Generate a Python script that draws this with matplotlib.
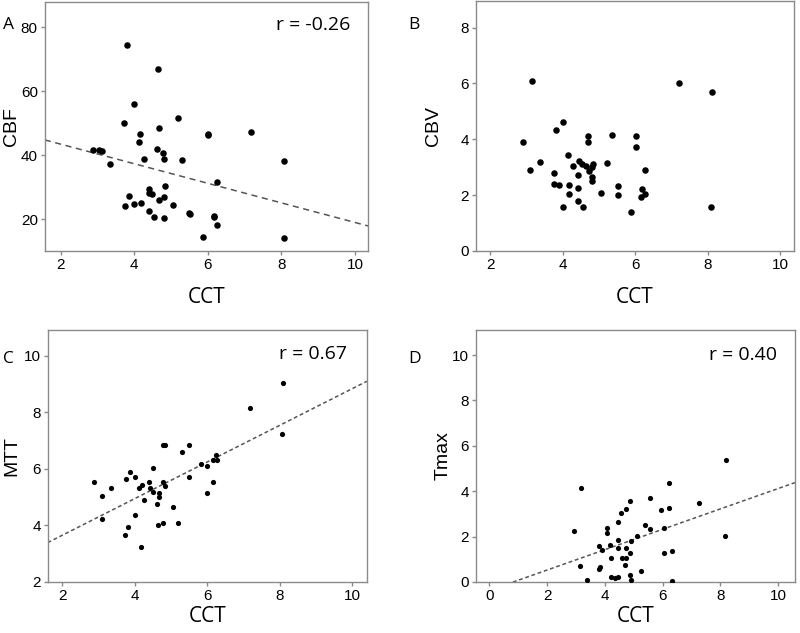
import numpy as np
import matplotlib
matplotlib.use('Agg')
import matplotlib.pyplot as plt

'''            DATA (read from the figure)          '''
# A: CBF vs CCT
cct_a = [3.79, 4.65, 4.00, 5.18, 3.73, 4.66, 5.99, 6.01, 7.17, 4.16, 4.12, 2.88, 3.05,
         3.12, 4.63, 4.79, 4.82, 4.26, 5.31, 8.07, 3.34, 6.24, 4.83, 4.40, 4.40, 4.49,
         3.86, 4.80, 4.67, 4.17, 4.00, 5.06, 3.75, 4.39, 5.49, 5.51, 4.53, 6.16, 6.18,
         4.80, 6.26, 5.88, 8.06]
cbf = [74.5, 66.9, 56.0, 51.5, 50.2, 48.6, 46.6, 46.3, 47.4, 46.8, 44.2, 41.5, 41.6,
       41.4, 42.0, 40.6, 38.8, 38.9, 38.5, 38.2, 37.3, 31.7, 30.5, 29.4, 28.3, 27.9,
       27.3, 26.9, 26.0, 25.2, 24.9, 24.5, 24.1, 22.5, 22.0, 21.7, 20.8, 21.0, 20.8,
       20.3, 18.2, 14.4, 14.3]

# B: CBV vs CCT
cct_b = [3.15, 7.22, 8.13, 4.02, 3.81, 4.69, 5.35, 6.02, 2.90, 4.69, 6.02, 4.15, 3.37,
         5.22, 4.44, 4.53, 4.85, 4.28, 4.64, 4.80, 4.72, 3.09, 6.28, 3.75, 4.43, 4.82,
         4.81, 3.77, 3.89, 4.19, 5.52, 4.43, 6.18, 5.07, 4.19, 5.53, 6.28, 6.17, 4.43,
         4.02, 4.56, 8.11, 5.89]
cbv = [6.08, 6.03, 5.70, 4.62, 4.34, 4.12, 4.15, 4.10, 3.90, 3.91, 3.74, 3.42, 3.18,
       3.15, 3.22, 3.13, 3.13, 3.03, 3.05, 3.02, 2.86, 2.91, 2.90, 2.79, 2.73, 2.66,
       2.51, 2.40, 2.35, 2.36, 2.34, 2.26, 2.21, 2.09, 2.05, 2.00, 2.05, 1.94, 1.79,
       1.56, 1.59, 1.56, 1.39]

# C: MTT vs CCT
cct_c = [8.09, 7.19, 8.06, 4.79, 4.85, 5.49, 5.32, 6.25, 6.17, 6.26, 5.84, 5.99, 4.51,
         3.87, 4.00, 5.49, 3.76, 2.89, 4.41, 4.79, 6.15, 4.19, 4.83, 4.43, 3.36, 4.13,
         4.52, 4.66, 5.99, 3.09, 4.67, 4.27, 4.63, 5.05, 4.00, 3.09, 4.79, 5.19, 4.65,
         3.81, 3.74, 4.18]
mtt = [9.04, 8.15, 7.22, 6.84, 6.85, 6.84, 6.58, 6.47, 6.31, 6.31, 6.16, 6.09, 6.04,
       5.89, 5.71, 5.72, 5.65, 5.54, 5.54, 5.53, 5.52, 5.44, 5.40, 5.33, 5.31, 5.31,
       5.18, 5.13, 5.15, 5.02, 5.00, 4.88, 4.76, 4.64, 4.36, 4.24, 4.10, 4.07, 4.00,
       3.95, 3.65, 3.22]

# D: Tmax vs CCT
cct_d = [8.19, 6.23, 3.19, 5.56, 4.87, 7.25, 4.57, 4.73, 5.94, 6.23, 4.46, 5.39, 4.06,
         5.56, 6.06, 2.93, 4.06, 5.11, 8.15, 4.46, 4.90, 4.18, 3.79, 4.46, 4.72, 3.91,
         6.32, 6.06, 4.87, 4.23, 4.58, 4.73, 4.69, 3.14, 3.84, 3.81, 5.26, 4.86, 4.22,
         4.46, 4.34, 3.40, 4.89, 6.32]
tmax = [5.38, 4.35, 4.13, 3.72, 3.56, 3.50, 3.06, 3.21, 3.18, 3.25, 2.65, 2.51, 2.38,
        2.35, 2.37, 2.25, 2.15, 2.01, 2.01, 1.85, 1.81, 1.65, 1.59, 1.49, 1.49, 1.40,
        1.38, 1.28, 1.26, 1.07, 1.07, 1.07, 0.76, 0.72, 0.65, 0.59, 0.47, 0.31, 0.24,
        0.24, 0.16, 0.10, 0.10, 0.04]

# regression lines (slope, intercept) and r values
fit_a, r_a = (-3.06, 49.6), '-0.26'
fit_c, r_c = (0.647, 2.355), '0.67'
fit_d, r_d = (0.449, -0.373), '0.40'

'''            FIGURE          '''
plt.rcParams['font.family'] = ['Liberation Sans', 'DejaVu Sans']
LABEL_FONT = ['Open Sans', 'DejaVu Sans']
spine_col = '#8a8a8a'

fig = plt.figure(figsize=(8, 6.33), dpi=100)
axA = fig.add_axes([0.056, 0.6035, 0.404, 0.3934])
axB = fig.add_axes([0.5946, 0.6035, 0.398, 0.3945])
axC = fig.add_axes([0.0596, 0.0806, 0.399, 0.398])
axD = fig.add_axes([0.5946, 0.0806, 0.399, 0.398])


def style(ax, xlim, ylim, xticks, yticks, ylab, ylab_x, xlab_y):
    ax.set_xlim(xlim)
    ax.set_ylim(ylim)
    ax.set_xticks(xticks)
    ax.set_yticks(yticks)
    for s in ax.spines.values():
        s.set_color(spine_col)
        s.set_linewidth(1.0)
    ax.tick_params(direction='out', length=3, width=1, color=spine_col,
                   labelsize=11, pad=2)
    ax.set_xlabel('CCT', fontsize=15, family=LABEL_FONT)
    ax.set_ylabel(ylab, fontsize=14)
    # label anchors: top edge of the x label, right edge of the y label
    ax.xaxis.set_label_coords(0.5, xlab_y)
    ax.yaxis.set_label_coords(ylab_x, 0.5)


def fit_line(ax, fit, ls):
    xs = np.array(ax.get_xlim())
    ax.plot(xs, fit[0] * xs + fit[1], color='#555555', lw=1.1, ls=ls, zorder=1)


# A
axA.scatter(cct_a, cbf, s=22, color='black', zorder=3, linewidths=0)
style(axA, (1.57, 10.35), (10.1, 87.9), [2, 4, 6, 8, 10], [20, 40, 60, 80],
      'CBF', -0.077, -0.145)
fit_line(axA, fit_a, (0, (4, 3)))
axA.text(0.944, 0.908, 'r = ' + r_a, transform=axA.transAxes, ha='right',
         va='center', fontsize=14, family=LABEL_FONT)

# B
axB.scatter(cct_b, cbv, s=22, color='black', zorder=3, linewidths=0)
style(axB, (1.6, 10.39), (0, 8.94), [2, 4, 6, 8, 10], [0, 2, 4, 6, 8],
      'CBV', -0.107, -0.145)

# C
axC.scatter(cct_c, mtt, s=14, color='black', zorder=3, linewidths=0)
style(axC, (1.6, 10.41), (2, 10.9), [2, 4, 6, 8, 10], [2, 4, 6, 8, 10],
      'MTT', -0.087, -0.095)
fit_line(axC, fit_c, (0, (2.5, 1.8)))
axC.text(0.938, 0.905, 'r = ' + r_c, transform=axC.transAxes, ha='right',
         va='center', fontsize=14, family=LABEL_FONT)

# D
axD.scatter(cct_d, tmax, s=14, color='black', zorder=3, linewidths=0)
style(axD, (-0.47, 10.58), (0, 11.1), [0, 2, 4, 6, 8, 10], [0, 2, 4, 6, 8, 10],
      'Tmax', -0.075, -0.095)
fit_line(axD, fit_d, (0, (2.5, 1.8)))
axD.text(0.944, 0.90, 'r = ' + r_d, transform=axD.transAxes, ha='right',
         va='center', fontsize=14, family=LABEL_FONT)

# panel letters
for lx, ly, letter in [(0.004, 0.960, 'A'), (0.510, 0.960, 'B'),
                       (0.004, 0.433, 'C'), (0.510, 0.433, 'D')]:
    fig.text(lx, ly, letter, fontsize=12.5, family=LABEL_FONT, va='center')

fig.savefig('out.png', dpi=100)
